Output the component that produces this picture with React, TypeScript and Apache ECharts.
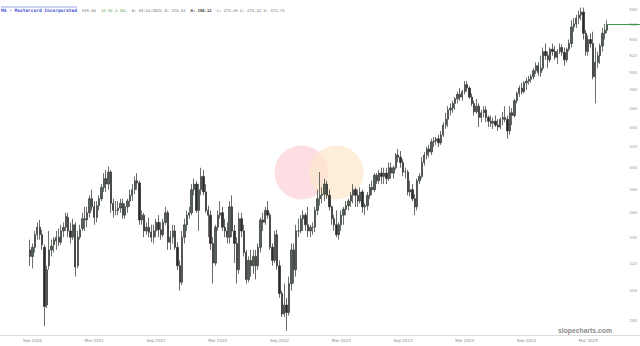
import React, { useEffect, useRef } from "react";
import * as echarts from "echarts";

// Weekly bars [open, high, low, close] (weeks starting Mon 14 Sep 2020)
const w2020 = [
  [330, 338, 318, 325], [325, 335, 316, 332], [332, 345, 328, 342], [342, 352, 338, 348],
  [348, 354, 338, 342], [342, 346, 330, 334], [332, 334, 276, 289], [290, 318, 288, 315],
  [318, 345, 315, 330], [330, 338, 325, 333], [334, 340, 328, 338], [337, 345, 330, 340],
  [340, 347, 333, 336], [336, 350, 334, 345], [345, 352, 340, 348], [348, 360, 345, 357],
];
const w2021 = [
  [356, 360, 340, 345], [345, 352, 335, 340], [340, 355, 338, 350], [350, 352, 310, 317],
  [318, 345, 316, 340], [340, 350, 338, 346], [347, 360, 345, 355], [355, 365, 345, 354],
  [354, 365, 348, 360], [360, 375, 356, 372], [372, 380, 362, 365], [365, 370, 350, 356],
  [356, 370, 352, 366], [366, 375, 362, 372], [372, 385, 370, 382], [382, 395, 378, 390],
  [390, 398, 378, 385], [385, 401, 380, 396], [396, 398, 360, 368], [368, 372, 356, 362],
  [362, 370, 358, 362], [362, 370, 358, 364], [364, 372, 360, 368], [368, 372, 355, 358],
  [358, 368, 355, 365], [365, 372, 360, 370], [370, 380, 365, 375], [375, 385, 370, 380],
  [380, 392, 376, 388], [388, 395, 380, 386], [386, 388, 350, 354], [354, 362, 350, 358],
  [358, 360, 340, 345], [345, 352, 342, 348], [348, 356, 340, 344], [344, 350, 336, 340],
  [340, 350, 335, 345], [345, 355, 340, 352], [352, 358, 340, 346], [346, 352, 338, 342],
  [342, 355, 340, 352], [352, 365, 350, 360], [360, 362, 330, 336], [336, 345, 330, 340],
  [340, 350, 335, 345], [345, 350, 330, 332], [332, 336, 315, 318], [318, 322, 300, 306],
  [306, 345, 304, 340], [340, 355, 335, 350], [350, 362, 345, 358], [358, 365, 355, 360],
];
const w2022 = [
  [360, 385, 358, 380], [380, 390, 375, 385], [385, 388, 360, 362], [362, 385, 345, 380],
  [380, 400, 375, 392], [392, 398, 375, 378], [378, 385, 360, 362], [362, 366, 340, 358],
  [358, 362, 330, 335], [335, 340, 305, 320], [320, 350, 318, 348], [348, 362, 345, 358],
  [358, 370, 355, 360], [360, 365, 345, 348], [348, 355, 340, 345], [345, 352, 335, 340],
  [340, 370, 335, 365], [365, 375, 340, 345], [345, 350, 320, 335], [335, 340, 305, 315],
  [315, 360, 312, 355], [355, 360, 340, 345], [345, 350, 325, 328], [328, 330, 305, 308],
  [308, 325, 306, 322], [322, 330, 310, 318], [318, 330, 312, 325], [325, 330, 308, 318],
  [318, 335, 315, 332], [332, 356, 328, 354], [354, 360, 345, 352], [352, 365, 350, 362],
  [362, 370, 355, 358], [358, 360, 330, 332], [332, 335, 318, 322], [322, 345, 320, 342],
  [342, 346, 315, 318], [318, 322, 295, 298], [298, 300, 282, 284], [284, 305, 282, 290],
  [290, 295, 273, 285], [285, 310, 283, 305], [305, 335, 300, 330], [330, 335, 305, 315],
  [315, 350, 310, 345], [345, 355, 340, 345], [345, 358, 343, 355], [355, 362, 345, 358],
  [358, 360, 345, 350], [350, 365, 340, 345], [345, 350, 340, 348], [348, 352, 342, 348],
];
const w2023 = [
  [348, 365, 344, 362], [362, 380, 358, 372], [372, 396, 366, 375], [375, 382, 368, 376],
  [376, 390, 370, 385], [385, 388, 372, 375], [375, 380, 362, 365], [365, 366, 350, 355],
  [355, 358, 345, 350], [350, 362, 340, 342], [342, 352, 338, 350], [350, 362, 345, 358],
  [358, 365, 350, 363], [363, 370, 358, 366], [366, 372, 362, 370], [370, 378, 365, 375],
  [375, 385, 368, 380], [380, 382, 365, 375], [375, 380, 365, 370], [370, 382, 368, 378],
  [378, 380, 360, 365], [365, 368, 358, 366], [366, 378, 362, 375], [375, 385, 372, 382],
  [382, 388, 375, 380], [380, 395, 378, 393], [393, 395, 385, 388], [388, 398, 385, 395],
  [395, 400, 385, 392], [392, 400, 385, 395], [395, 400, 385, 390], [390, 405, 388, 400],
  [400, 405, 390, 395], [395, 402, 390, 400], [400, 414, 398, 412], [412, 418, 405, 410],
  [410, 416, 400, 405], [405, 408, 392, 396], [396, 400, 390, 396], [396, 398, 375, 378],
  [378, 388, 374, 380], [380, 385, 370, 372], [372, 376, 358, 365], [365, 390, 362, 388],
  [388, 395, 385, 392], [392, 410, 390, 405], [405, 415, 402, 412], [412, 420, 408, 418],
  [418, 422, 410, 415], [415, 428, 412, 425], [425, 430, 420, 426], [426, 430, 422, 428],
];
const w2024 = [
  [428, 432, 420, 424], [424, 436, 422, 432], [432, 445, 430, 442], [442, 455, 438, 448],
  [448, 462, 440, 458], [458, 465, 452, 460], [460, 468, 455, 465], [465, 472, 458, 470],
  [470, 478, 465, 475], [475, 482, 468, 472], [472, 480, 468, 478], [478, 490, 475, 486],
  [486, 490, 478, 482], [482, 484, 470, 472], [472, 476, 462, 465], [465, 468, 452, 456],
  [456, 470, 454, 462], [462, 465, 440, 450], [450, 458, 445, 455], [455, 462, 450, 458],
  [458, 462, 445, 450], [450, 452, 440, 446], [446, 452, 440, 444], [444, 450, 438, 446],
  [446, 452, 440, 442], [442, 448, 436, 440], [440, 450, 438, 448], [448, 456, 442, 450],
  [450, 462, 445, 448], [448, 452, 428, 436], [436, 462, 432, 455], [455, 460, 442, 452],
  [452, 470, 450, 468], [468, 478, 465, 476], [476, 485, 472, 482], [482, 488, 475, 478],
  [478, 490, 476, 488], [488, 494, 480, 490], [490, 496, 486, 492], [492, 498, 488, 495],
  [495, 505, 492, 502], [502, 512, 498, 508], [508, 512, 496, 500], [500, 520, 495, 505],
  [505, 530, 502, 525], [525, 535, 515, 520], [520, 525, 505, 515], [515, 530, 512, 528],
  [528, 535, 520, 525], [525, 532, 515, 518], [518, 528, 510, 525], [525, 535, 522, 530],
  [530, 534, 520, 524],
];
const w2025 = [
  [524, 530, 508, 515], [515, 530, 512, 528], [528, 540, 525, 535], [535, 565, 530, 556],
  [556, 568, 550, 560], [560, 572, 555, 568], [568, 578, 560, 572], [572, 582, 565, 576],
  [576, 582, 540, 548], [548, 552, 520, 525], [525, 545, 520, 540], [540, 548, 530, 535],
  [535, 550, 492, 495], [495, 530, 465, 512], [512, 525, 505, 520], [520, 535, 510, 532],
  [532, 555, 525, 548], [548, 560, 540, 552], [552, 565, 548, 559.44],
];

const yTickValues = [280, 300, 320, 340, 360, 380, 400, 420, 440, 460, 480, 500, 520, 540, 560, 580];
const yMin = 270.4;
const yMax = 592.4;
const firstWeek = Date.UTC(2020, 8, 14);
const xLabelEvery = 26;
const xLabelOffset = 1;
const lastPrice = 559.44;

const MONTHS = ["Jan", "Feb", "Mar", "Apr", "May", "Jun", "Jul", "Aug", "Sep", "Oct", "Nov", "Dec"];

export default function App() {
  const ref = useRef<HTMLDivElement>(null);

  useEffect(() => {
    if (!ref.current) return;
    const chart = echarts.init(ref.current, undefined, { renderer: "svg" });
    const bars = [...w2020, ...w2021, ...w2022, ...w2023, ...w2024, ...w2025];
    const dates = bars.map((_, i) => new Date(firstWeek + i * 7 * 86400000).toISOString().slice(0, 10));
    const data = bars.map(([o, h, l, c]) => [o, c, l, h]);

    const header =
      "{a|MA - Mastercard Incorporated} {b|559.44} {c|12.91 2.36%} {b|D: 03/11/2021 O: 276.32} {d|H: 280.12} {b|L: 273.19 C: 275.12 V: 575.75}";

    chart.setOption({
      animation: false,
      backgroundColor: "#ffffff",
      title: {
        text: header,
        left: 1,
        top: 1,
        padding: 0,
        textStyle: {
          rich: {
            a: { color: "#3b4fd6", fontSize: 4.5, fontFamily: "DejaVu Sans Mono", lineHeight: 6 },
            b: { color: "#9a9a9a", fontSize: 3.9, fontFamily: "DejaVu Sans Mono", lineHeight: 6 },
            c: { color: "#7fc47f", fontSize: 3.9, fontFamily: "DejaVu Sans Mono", lineHeight: 6 },
            d: { color: "#333333", fontSize: 3.9, fontWeight: "bold", fontFamily: "DejaVu Sans Mono", lineHeight: 6 },
          },
        },
      },
      grid: { left: 29, right: 31, top: 0, bottom: 11, containLabel: false },
      xAxis: {
        type: "category",
        data: dates,
        boundaryGap: true,
        axisLine: { show: false },
        axisTick: { show: false },
        splitLine: { show: false },
        axisLabel: {
          interval: (idx: number) => idx % xLabelEvery === xLabelOffset,
          formatter: (v: string) => {
            const d = new Date(v + "T00:00:00Z");
            return MONTHS[d.getUTCMonth()] + " " + d.getUTCFullYear();
          },
          fontSize: 4,
          color: "#8a8a8a",
          margin: 3,
          fontFamily: "DejaVu Sans",
        },
      },
      yAxis: {
        type: "log",
        position: "right",
        min: yMin,
        max: yMax,
        axisLine: { show: false },
        axisTick: { show: false, customValues: yTickValues },
        splitLine: { show: false },
        axisLabel: {
          customValues: yTickValues,
          fontSize: 4,
          color: "#9a9a9a",
          margin: 21,
          fontFamily: "DejaVu Sans",
        },
      },
      series: [
        {
          type: "candlestick",
          data,
          barWidth: 1.8,
          itemStyle: {
            color: "#56625a",
            color0: "#2a2a2a",
            borderColor: "#2c352c",
            borderColor0: "#2a2a2a",
            borderWidth: 0.7,
          },
        },
      ],
    });

    const last = chart.convertToPixel({ xAxisIndex: 0, yAxisIndex: 0 }, [data.length - 1, lastPrice]) as number[];

    chart.setOption({
      graphic: [
        { id: "c1", type: "circle", z: 0, shape: { cx: 301.5, cy: 172.5, r: 27 }, style: { fill: "#fcdee3" } },
        { id: "c2", type: "circle", z: 0, shape: { cx: 336.5, cy: 172.5, r: 27 }, style: { fill: "rgba(252,232,205,0.75)" } },
        { id: "ul", type: "line", z: 5, shape: { x1: 1, y1: 7, x2: 77, y2: 7 }, style: { stroke: "#3b4fd6", lineWidth: 0.5 } },
        { id: "ax", type: "line", z: 5, shape: { x1: 0, y1: 335.5, x2: 640, y2: 335.5 }, style: { stroke: "#dcdcdc", lineWidth: 1 } },
        {
          id: "wm",
          type: "text",
          z: 5,
          x: 558,
          y: 330,
          style: {
            text: "slopecharts.com",
            fill: "#8c8c8c",
            fontSize: 6.8,
            fontWeight: "bold",
            fontFamily: "Liberation Sans",
            verticalAlign: "middle",
          },
        },
        {
          id: "pl",
          type: "line",
          z: 5,
          shape: { x1: last[0], y1: Math.round(last[1]) + 0.5, x2: 640, y2: Math.round(last[1]) + 0.5 },
          style: { stroke: "#3a9a48", lineWidth: 1 },
        },
      ],
    });

    return () => chart.dispose();
  }, []);

  return (
    <div
      ref={ref}
      style={{ position: "fixed", left: 0, top: 0, width: 640, height: 346, background: "#fff" }}
    />
  );
}
